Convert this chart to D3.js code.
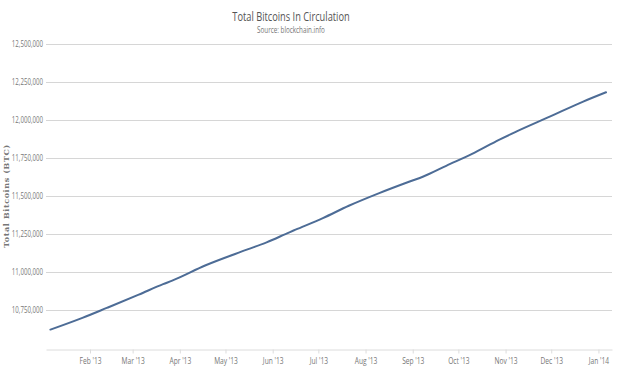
<!DOCTYPE html>
<html>
<head>
<meta charset="utf-8">
<script src="https://cdn.jsdelivr.net/npm/d3@7"></script>
<style>
  html, body { margin: 0; padding: 0; background: #fff; }
  svg { display: block; }
  .narrow { font-family: "Open Sans", "DejaVu Sans", sans-serif; }
</style>
</head>
<body>
<svg id="chart" width="632" height="368"></svg>
<script>
// ---- data ----
const dates = [
  "2013-01-06","2013-01-27","2013-02-12","2013-03-05","2013-03-21","2013-03-27",
  "2013-04-18","2013-05-15","2013-05-28","2013-06-12","2013-06-16","2013-07-04",
  "2013-07-21","2013-08-10","2013-08-30","2013-09-08","2013-09-23","2013-10-10",
  "2013-10-28","2013-11-08","2013-11-30","2013-12-22","2014-01-06"
];
const totalBTC = [
  10624000,10701000,10766000,10853000,10922000,10945000,
  11046000,11148000,11196000,11262000,11279000,11355000,
  11436000,11519000,11595000,11628000,11698000,11776000,
  11870000,11922000,12020000,12119000,12180000
];
const yTicks = [10500000,10750000,11000000,11250000,11500000,11750000,12000000,12250000,12500000];
const xTickDates = ["2013-02-01","2013-03-01","2013-04-01","2013-05-01","2013-06-01","2013-07-01",
  "2013-08-01","2013-09-01","2013-10-01","2013-11-01","2013-12-01","2014-01-01"];
const titleText = "Total Bitcoins In Circulation";
const subtitleText = "Source: blockchain.info";
const yTitleText = "Total Bitcoins (BTC)";

(function () {
  const svg = d3.select("#chart");
  const W = 632, H = 368;
  const pL = 46, pR = 612, pT = 43.5, pB = 348.5;
  const parse = d3.utcParse("%Y-%m-%d");
  const data = dates.map((d, i) => ({ date: parse(d), value: totalBTC[i] }));

  // condense text horizontally (reference uses a narrow face)
  function condense(sel, k) {
    sel.each(function () {
      const w = this.getComputedTextLength();
      d3.select(this).attr("textLength", w * k).attr("lengthAdjust", "spacingAndGlyphs");
    });
  }

  const x = d3.scaleUtc()
    .domain([new Date(Date.UTC(2013, 0, 3, 2)), new Date(Date.UTC(2014, 0, 9, 22))])
    .range([pL, pR]);
  const y = d3.scaleLinear().domain([10500000, 12500000]).range([pB, pT]);

  svg.append("rect").attr("width", W).attr("height", H).attr("fill", "#fff");

  const fmt = d3.format(",");
  const shown = yTicks.filter(t => t > 10500000);
  svg.append("g").selectAll("line").data(shown).join("line")
    .attr("x1", pL).attr("x2", pR)
    .attr("y1", d => Math.round(y(d)) + 0.5).attr("y2", d => Math.round(y(d)) + 0.5)
    .attr("stroke", "#d6d6d6").attr("stroke-width", 1);

  const yl = svg.append("g").selectAll("text").data(shown).join("text")
    .attr("class", "narrow")
    .attr("x", 43).attr("y", d => y(d) + 3)
    .attr("text-anchor", "end")
    .attr("font-size", 8.5).attr("fill", "#777")
    .text(d => fmt(d));
  condense(yl, 0.72);

  const xAxis = d3.axisBottom(x)
    .tickValues(xTickDates.map(parse))
    .tickFormat(d => d3.utcFormat("%b '%y")(d))
    .tickSize(4).tickSizeOuter(0);
  const gx = svg.append("g").attr("transform", `translate(0,${Math.round(pB) + 0.5})`).call(xAxis);
  gx.attr("font-family", null).attr("font-size", null);
  gx.select(".domain").attr("stroke", "#dcdcdc");
  gx.selectAll(".tick line").attr("stroke", "#dcdcdc");
  const xt = gx.selectAll(".tick text").attr("class", "narrow").attr("font-size", 8.5).attr("fill", "#777").attr("dy", "0.9em");
  condense(xt, 0.78);

  const line = d3.line().x(d => x(d.date)).y(d => y(d.value)).curve(d3.curveMonotoneX);
  svg.append("path").datum(data)
    .attr("d", line)
    .attr("fill", "none")
    .attr("stroke", "#4d6c96")
    .attr("stroke-width", 2)
    .attr("stroke-linejoin", "round").attr("stroke-linecap", "round");

  const t1 = svg.append("text").attr("class", "narrow")
    .attr("x", 291).attr("y", 21).attr("text-anchor", "middle")
    .attr("font-size", 12.5).attr("fill", "#555")
    .text(titleText);
  condense(t1, 0.74);
  const t2 = svg.append("text").attr("class", "narrow")
    .attr("x", 291).attr("y", 33).attr("text-anchor", "middle")
    .attr("font-size", 8.5).attr("fill", "#777")
    .text(subtitleText);
  condense(t2, 0.74);

  svg.append("text")
    .attr("transform", "translate(9,196) rotate(-90)")
    .attr("text-anchor", "middle")
    .attr("font-family", "'DejaVu Serif', serif").attr("font-weight", "bold")
    .attr("font-size", 8).attr("fill", "#777")
    .attr("letter-spacing", 0.6)
    .text(yTitleText);
})();
</script>
</body>
</html>
